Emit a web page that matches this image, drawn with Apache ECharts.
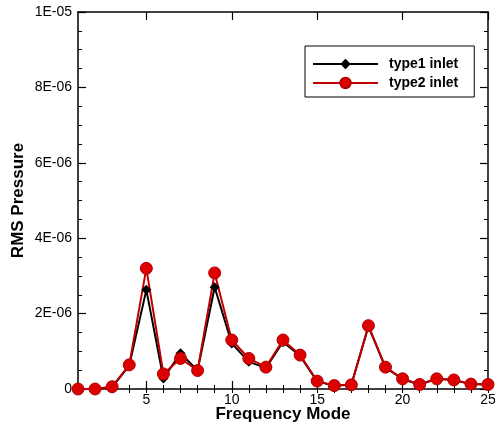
<!DOCTYPE html>
<html>
<head>
<meta charset="utf-8">
<script src="https://cdn.jsdelivr.net/npm/echarts@6/dist/echarts.min.js"></script>
<style>
  html, body { margin: 0; padding: 0; background: #fff; }
  #chart { width: 495px; height: 429px; }
</style>
</head>
<body>
<div id="chart"></div>
<script>
// frequency modes 1..25
const modes = [1, 2, 3, 4, 5, 6, 7, 8, 9, 10, 11, 12, 13, 14, 15, 16, 17, 18, 19, 20, 21, 22, 23, 24, 25]
const type1Inlet = [0, 0, 0.05e-6, 0.62e-6, 2.63e-6, 0.28e-6, 0.95e-6, 0.49e-6, 2.70e-6, 1.21e-6, 0.72e-6, 0.56e-6, 1.25e-6,
  0.88e-6, 0.20e-6, 0.09e-6, 0.11e-6, 1.66e-6, 0.57e-6, 0.26e-6, 0.12e-6, 0.27e-6, 0.24e-6, 0.13e-6, 0.12e-6]
const type2Inlet = [0, 0, 0.06e-6, 0.64e-6, 3.20e-6, 0.40e-6, 0.81e-6, 0.49e-6, 3.08e-6, 1.30e-6, 0.81e-6, 0.58e-6, 1.30e-6,
  0.90e-6, 0.21e-6, 0.09e-6, 0.11e-6, 1.68e-6, 0.58e-6, 0.27e-6, 0.12e-6, 0.27e-6, 0.24e-6, 0.13e-6, 0.12e-6]
const xLabels = [5, 10, 15, 20, 25]

const font = 'Liberation Sans, Arial, sans-serif'

function expFmt(v) {
  if (Math.abs(v) < 1e-12) return '0'
  const parts = v.toExponential(0).split('e')
  const n = parseInt(parts[1], 10)
  return parts[0] + 'E' + (n < 0 ? '-' : '+') + String(Math.abs(n)).padStart(2, '0')
}

const line = { show: true, onZero: false, lineStyle: { color: '#000', width: 1.5 } }

function xAx(pos, major, labels) {
  return {
    type: 'value',
    position: pos,
    min: 1,
    max: 25,
    interval: 1,
    axisLine: major ? line : { show: false },
    axisTick: major
      ? { show: true, inside: true, length: 8, customValues: xLabels, lineStyle: { color: '#000', width: 1.2 } }
      : { show: true, inside: true, length: 4, lineStyle: { color: '#000', width: 1 } },
    axisLabel: labels
      ? { show: true, customValues: xLabels, margin: 4, color: '#000', fontFamily: font, fontSize: 14 }
      : { show: false },
    splitLine: { show: false }
  }
}

function yAx(pos, labels) {
  return {
    type: 'value',
    position: pos,
    min: 0,
    max: 1e-5,
    interval: 2e-6,
    axisLine: line,
    axisTick: { show: true, inside: true, length: 8, lineStyle: { color: '#000', width: 1.2 } },
    minorTick: { show: true, splitNumber: 4, length: 4, lineStyle: { color: '#000', width: 1 } },
    axisLabel: labels
      ? { show: true, margin: 6, color: '#000', fontFamily: font, fontSize: 14, formatter: expFmt }
      : { show: false },
    splitLine: { show: false }
  }
}

const xAxes = [xAx('bottom', true, true), xAx('bottom', false, false), xAx('top', true, false), xAx('top', false, false)]
xAxes[0].name = 'Frequency Mode'
xAxes[0].nameLocation = 'middle'
xAxes[0].nameGap = 17
xAxes[0].nameMoveOverlap = false
xAxes[0].nameTextStyle = { color: '#000', fontFamily: font, fontSize: 17, fontWeight: 'bold' }

const yAxes = [yAx('left', true), yAx('right', false)]
yAxes[0].name = 'RMS Pressure'
yAxes[0].nameLocation = 'middle'
yAxes[0].nameGap = 51
yAxes[0].nameMoveOverlap = false
yAxes[0].nameTextStyle = { color: '#000', fontFamily: font, fontSize: 17, fontWeight: 'bold' }

const options = {
  animation: false,
  backgroundColor: '#fff',
  grid: { left: 78, right: 7, top: 12, bottom: 40, outerBoundsMode: 'none', containLabel: false },
  legend: {
    orient: 'vertical',
    left: 305,
    top: 46,
    padding: [11, 16, 7, 7],
    itemWidth: 65,
    itemHeight: 13,
    itemGap: 5,
    borderColor: '#000',
    borderWidth: 1,
    backgroundColor: '#fff',
    textStyle: { color: '#000', fontFamily: font, fontSize: 14, fontWeight: 'bold', padding: [0, 0, 0, 6] },
    data: ['type1 inlet', 'type2 inlet']
  },
  xAxis: xAxes,
  yAxis: yAxes,
  series: [
    {
      name: 'type1 inlet',
      type: 'line',
      data: modes.map((m, i) => [m, type1Inlet[i]]),
      symbol: 'diamond',
      symbolSize: 10,
      clip: false,
      itemStyle: { color: '#000' },
      lineStyle: { color: '#000', width: 2 }
    },
    {
      name: 'type2 inlet',
      type: 'line',
      data: modes.map((m, i) => [m, type2Inlet[i]]),
      symbol: 'circle',
      symbolSize: 12,
      clip: false,
      itemStyle: { color: '#dd0000', borderColor: '#b00000', borderWidth: 1 },
      lineStyle: { color: '#c00000', width: 2 }
    }
  ]
}

const chart = echarts.init(document.getElementById('chart'))
chart.setOption(options)
</script>
</body>
</html>
